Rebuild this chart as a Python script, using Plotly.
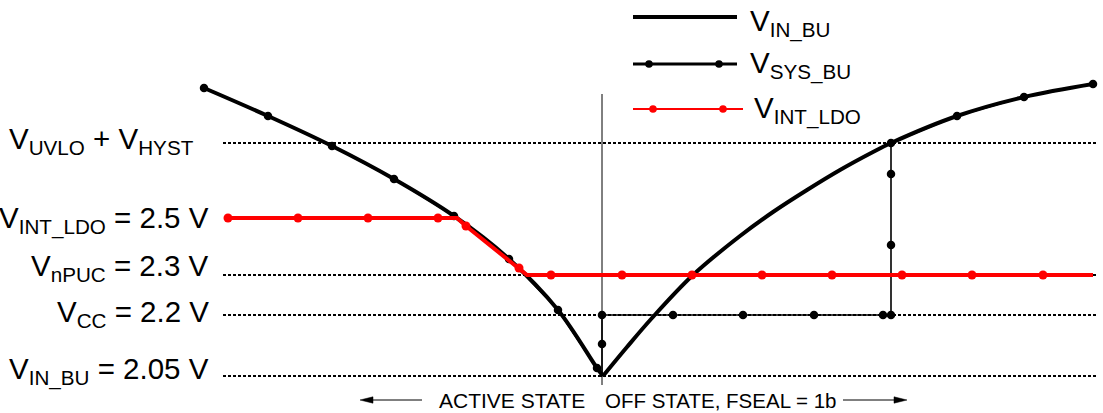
import plotly.graph_objects as go

# ---- data (schematic units: t = time, v = voltage level) ----
vin_fall_t = [0.0, 6.4, 12.8, 19.0, 25.0, 30.5, 35.4, 39.3, 39.9]
vin_fall_v = [28.8, 26.0, 23.0, 19.7, 16.0, 11.7, 6.6, 0.8, 0.0]
vin_rise_t = [39.9, 42.3, 44.8, 48.9, 53.6, 56.9, 60.3, 63.6, 66.9, 68.7, 75.3, 82.0, 88.9]
vin_rise_v = [0.0, 2.9, 5.8, 10.1, 14.0, 16.4, 18.6, 20.6, 22.4, 23.3, 26.0, 27.9, 29.2]

vsys_t = [0.0, 6.4, 12.8, 19.0, 25.0, 30.5, 35.4, 39.3, 39.8, 39.8, 39.8, 46.9, 53.9,
          61.0, 67.9, 68.7, 68.7, 68.7, 68.7, 75.3, 82.0, 88.9]
vsys_v = [28.8, 26.0, 23.0, 19.7, 16.0, 11.7, 6.6, 0.8, 0.0, 3.2, 6.1, 6.1, 6.1,
          6.1, 6.1, 6.1, 13.1, 20.2, 23.3, 26.0, 27.9, 29.2]
vsys_dot = [1, 1, 1, 1, 1, 1, 1, 1, 0, 1, 1, 1, 1, 1, 1, 1, 1, 1, 1, 1, 1, 1]

vint_t = [2.4, 9.4, 16.4, 23.4, 25.3, 26.2, 31.5, 32.3, 34.7, 41.8, 48.8, 55.8,
          62.8, 69.8, 76.8, 83.9, 88.9]
vint_v = [15.8, 15.8, 15.8, 15.8, 15.8, 15.0, 10.8, 10.1, 10.1, 10.1, 10.1, 10.1,
          10.1, 10.1, 10.1, 10.1, 10.1]
vint_dot = [1, 1, 1, 1, 0, 1, 1, 0, 1, 1, 1, 1, 1, 1, 1, 1, 0]

level_labels = ["V<sub>UVLO</sub> + V<sub>HYST</sub>",
                "V<sub>INT_LDO</sub> = 2.5 V",
                "V<sub>nPUC</sub> = 2.3 V",
                "V<sub>CC</sub> = 2.2 V",
                "V<sub>IN_BU</sub> = 2.05 V"]
level_v = [23.3, 15.8, 10.1, 6.1, 0.0]
level_dotted = [True, False, True, True, True]
off_t = 39.8          # time when OFF state starts
line_t0, line_t1 = 1.9, 89.3

legend_names = ["V<sub>IN_BU</sub>", "V<sub>SYS_BU</sub>", "V<sub>INT_LDO</sub>"]
state_left = "ACTIVE STATE"
state_right = "OFF STATE, FSEAL = 1b"

W, H = 1103, 413
FONT = "Liberation Sans, Arial, sans-serif"


def px(x):
    return x / W


def py(y):
    return 1 - y / H


fig = go.Figure()

fig.add_trace(go.Scatter(x=vin_fall_t, y=vin_fall_v, mode="lines",
                         line=dict(color="black", width=4, shape="spline", smoothing=1.0),
                         hoverinfo="skip"))
fig.add_trace(go.Scatter(x=vin_rise_t, y=vin_rise_v, mode="lines",
                         line=dict(color="black", width=4, shape="spline", smoothing=1.0),
                         hoverinfo="skip"))
fig.add_trace(go.Scatter(x=vsys_t, y=vsys_v, mode="lines+markers",
                         line=dict(color="black", width=1.6),
                         marker=dict(color="black", size=[8.5 * d for d in vsys_dot],
                                     opacity=1, line=dict(width=0)),
                         hoverinfo="skip"))
fig.add_trace(go.Scatter(x=vint_t, y=vint_v, mode="lines+markers",
                         line=dict(color="#ff0000", width=4),
                         marker=dict(color="#ff0000", size=[9 * d for d in vint_dot],
                                     opacity=1, line=dict(width=0)),
                         hoverinfo="skip"))

shapes = []
for v, d in zip(level_v, level_dotted):
    if d:
        shapes.append(dict(type="line", xref="x", yref="y", x0=line_t0, x1=line_t1,
                           y0=v, y1=v, layer="below",
                           line=dict(color="black", width=2, dash="3px,2px")))
shapes.append(dict(type="line", xref="x", yref="y", x0=off_t, x1=off_t,
                   y0=-0.9, y1=28.2, layer="below", line=dict(color="black", width=1)))

# legend samples
leg_y = [17, 64, 109]
leg_x1 = [737, 737, 743]
leg_w = [4, 3, 2]
leg_c = ["black", "black", "#ff0000"]
leg_dots = [[], [649, 719], [653, 723]]
for yy, x1, w, c, dots in zip(leg_y, leg_x1, leg_w, leg_c, leg_dots):
    shapes.append(dict(type="line", xref="paper", yref="paper", x0=px(633), x1=px(x1),
                       y0=py(yy), y1=py(yy), line=dict(color=c, width=w)))
    for dx in dots:
        r = 3.8
        shapes.append(dict(type="circle", xref="paper", yref="paper",
                           x0=px(dx - r), x1=px(dx + r), y0=py(yy + r), y1=py(yy - r),
                           fillcolor=c, line=dict(color=c, width=0)))

# bottom arrows
ay = 400
shapes.append(dict(type="line", xref="paper", yref="paper", x0=px(368), x1=px(422),
                   y0=py(ay), y1=py(ay), line=dict(color="black", width=1)))
shapes.append(dict(type="path", xref="paper", yref="paper",
                   path=f"M {px(360)} {py(ay)} L {px(373)} {py(ay - 3.2)} L {px(373)} {py(ay + 3.2)} Z",
                   fillcolor="black", line=dict(color="black", width=0.5)))
shapes.append(dict(type="line", xref="paper", yref="paper", x0=px(843), x1=px(898),
                   y0=py(ay), y1=py(ay), line=dict(color="black", width=1)))
shapes.append(dict(type="path", xref="paper", yref="paper",
                   path=f"M {px(907)} {py(ay)} L {px(894)} {py(ay - 3.2)} L {px(894)} {py(ay + 3.2)} Z",
                   fillcolor="black", line=dict(color="black", width=0.5)))

annotations = []
label_x = [-0.9, 0.6, 0.6, 0.6, 0.6]
label_y = [23.35, 15.7, 11.0, 6.4, 0.6]
label_shift = [2, -1, -1, -1, -1]
for txt, lx, ly, sh in zip(level_labels, label_x, label_y, label_shift):
    annotations.append(dict(x=lx, y=ly, xref="x", yref="y", text=txt, showarrow=False,
                            xanchor="right", yanchor="middle", yshift=sh, borderpad=0,
                            font=dict(family=FONT, size=29.5, color="black")))

leg_tx = [748, 748, 752]
leg_ty = [22, 64, 109]
for txt, tx, ty in zip(legend_names, leg_tx, leg_ty):
    annotations.append(dict(x=px(tx), y=py(ty), xref="paper", yref="paper", text=txt,
                            showarrow=False, xanchor="left", yanchor="middle", yshift=-1,
                            font=dict(family=FONT, size=29.5, color="black")))

annotations.append(dict(x=px(587), y=py(ay), xref="paper", yref="paper", text=state_left,
                        showarrow=False, xanchor="right", yanchor="middle",
                        font=dict(family=FONT, size=21, color="black")))
annotations.append(dict(x=px(603), y=py(ay), xref="paper", yref="paper", text=state_right,
                        showarrow=False, xanchor="left", yanchor="middle",
                        font=dict(family=FONT, size=20.5, color="black")))

fig.update_layout(
    width=W, height=H,
    margin=dict(l=0, r=0, t=0, b=0),
    paper_bgcolor="white", plot_bgcolor="white",
    showlegend=False,
    xaxis=dict(range=[-20.4, 89.9], visible=False, fixedrange=True),
    yaxis=dict(range=[-3.7, 37.6], visible=False, fixedrange=True),
    shapes=shapes, annotations=annotations,
)

fig.write_html("out.html", config={"displayModeBar": False},
               post_script="document.body.style.margin='0';document.body.style.overflow='hidden';")
